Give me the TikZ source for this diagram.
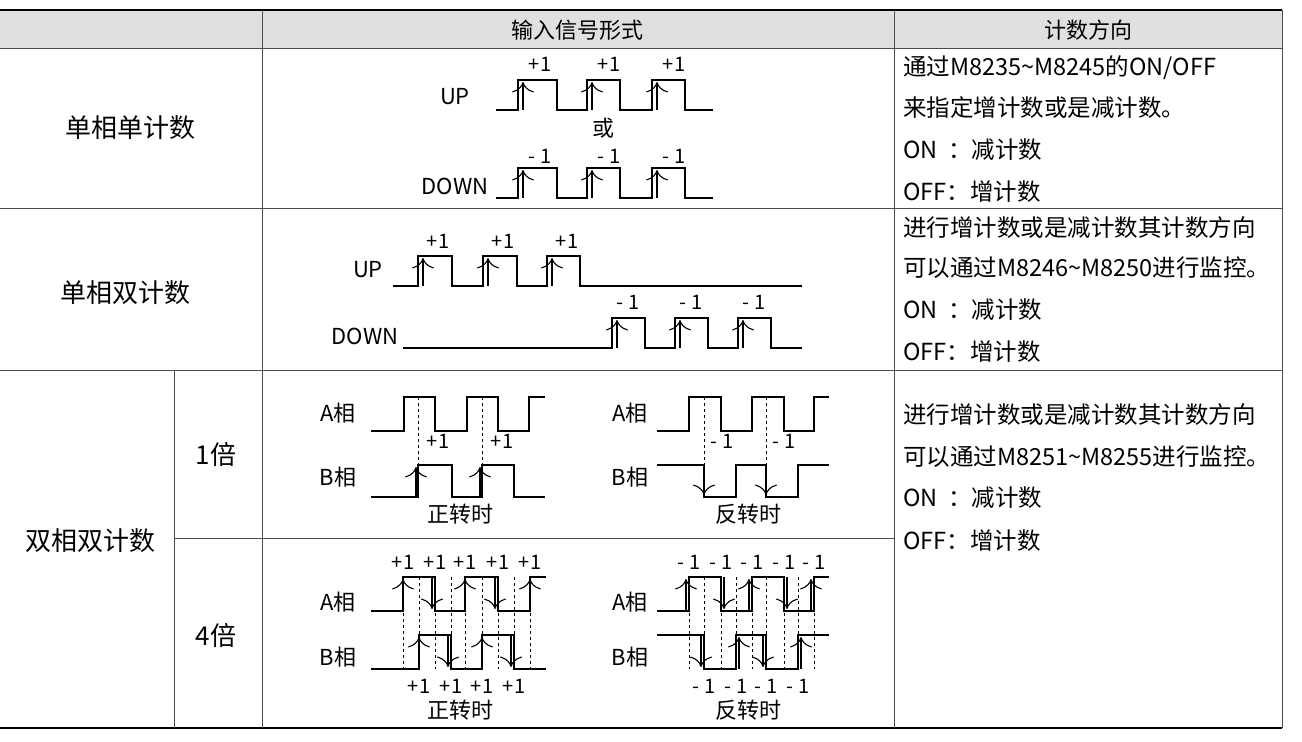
\documentclass[tikz,border=0pt]{standalone}
\usepackage{fontspec}
\setmainfont{Noto Sans CJK SC}
\usetikzlibrary{arrows.meta}
\tikzset{
  wave/.style={line width=1.3pt},
  upar/.style={line width=1.1pt,-{To[scale=2.6]}},
  gridl/.style={line width=0.6pt,black!70},
  dsh/.style={dashed,line width=0.8pt},
  big/.style={font=\fontsize{26}{30}\selectfont},
  txt/.style={font=\fontsize{23.5}{28}\selectfont,anchor=west,inner sep=0pt},
  sig/.style={font=\fontsize{22}{26}\selectfont,inner sep=0pt},
  cnt/.style={font=\fontsize{20}{22}\selectfont,inner sep=0pt},
}
\begin{document}
\begin{tikzpicture}[x=1pt,y=-1pt]
\useasboundingbox (0,0) rectangle (1302,742);

% Table
\fill [black!12] (0,10) rectangle (1282,48);
\draw [line width=2pt] (0,10) -- (1282,10);
\draw [gridl] (0,48) -- (1282,48);
\draw [gridl] (0,208) -- (1282,208);
\draw [gridl] (0,370) -- (1282,370);
\draw [gridl] (174,538) -- (894,538);
\draw [line width=2pt] (0,728) -- (1282,728);
\draw [gridl] (262,10) -- (262,728);
\draw [gridl] (894,10) -- (894,728);
\draw [gridl] (1282,10) -- (1282,728);
\draw [gridl] (174,370) -- (174,728);

% Header and row labels
\node [sig] (hin) at (577,30) {输入信号形式};
\node [sig] (hdir) at (1088,30) {计数方向};
\node [big] (r1) at (130,128) {单相单计数};
\node [big] (r2) at (125,293) {单相双计数};
\node [big] (r3) at (90,541) {双相双计数};
\node [big] (x1) at (216,455) {1倍};
\node [big] (x4) at (216,636) {4倍};

% Count direction texts
\node [txt] (d11) at (903,68) {通过M8235\textasciitilde M8245的ON/OFF};
\node [txt] (d12) at (903,108) {来指定增计数或是减计数。};
\node [txt] (d13) at (903,150) {ON\ \ ：减计数};
\node [txt] (d14) at (903,192) {OFF：增计数};
\node [txt] (d21) at (903,228) {进行增计数或是减计数其计数方向};
\node [txt] (d22) at (903,268) {可以通过M8246\textasciitilde M8250进行监控。};
\node [txt] (d23) at (903,310) {ON\ \ ：减计数};
\node [txt] (d24) at (903,352) {OFF：增计数};
\node [txt] (d31) at (903,415) {进行增计数或是减计数其计数方向};
\node [txt] (d32) at (903,457) {可以通过M8251\textasciitilde M8255进行监控。};
\node [txt] (d33) at (903,498) {ON\ \ ：减计数};
\node [txt] (d34) at (903,541) {OFF：增计数};

% Single phase single count
\node [sig] (up1) at (455,97) {UP};
\draw [wave] (496,110) -- (518,110) -- (518,80) -- (557,80) -- (557,110) -- (587,110) -- (587,80) -- (620,80) -- (620,110) -- (652,110) -- (652,80) -- (685,80) -- (685,110) -- (713,110);
\foreach \x/\l in {518/a,587/b,652/c}{
  \draw [upar] (\x+5,110) -- (\x+5,82);
  \node [cnt] (p1\l) at (\x+22,64) {+1};
}
\node [sig] (or1) at (603,128) {或};
\node [sig] (dn1) at (455,186) {DOWN};
\draw [wave] (496,198) -- (518,198) -- (518,168) -- (557,168) -- (557,198) -- (587,198) -- (587,168) -- (620,168) -- (620,198) -- (652,198) -- (652,168) -- (685,168) -- (685,198) -- (713,198);
\foreach \x/\l in {518/a,587/b,652/c}{
  \draw [upar] (\x+5,198) -- (\x+5,170);
  \node [cnt] (m1\l) at (\x+22,156) {- 1};
}

% Single phase double count
\node [sig] (up2) at (368,270) {UP};
\draw [wave] (393,286) -- (418,286) -- (418,256) -- (452,256) -- (452,286) -- (483,286) -- (483,256) -- (517,256) -- (517,286) -- (547,286) -- (547,256) -- (580,256) -- (580,286) -- (802,286);
\foreach \x/\l in {418/a,483/b,547/c}{
  \draw [upar] (\x+5,286) -- (\x+5,258);
  \node [cnt] (p2\l) at (\x+20,241) {+1};
}
\node [sig] (dn2) at (365,336) {DOWN};
\draw [wave] (403,348) -- (612,348) -- (612,318) -- (645,318) -- (645,348) -- (675,348) -- (675,318) -- (708,318) -- (708,348) -- (738,348) -- (738,318) -- (771,318) -- (771,348) -- (802,348);
\foreach \x/\l in {612/a,675/b,738/c}{
  \draw [upar] (\x+5,348) -- (\x+5,320);
  \node [cnt] (m2\l) at (\x+16,302) {- 1};
}

% Two phase, 1x, forward
\node [sig] (a1f) at (338,413) {A相};
\node [sig] (b1f) at (338,477) {B相};
\draw [wave] (371,431) -- (404,431) -- (404,397) -- (435,397) -- (435,431) -- (467,431) -- (467,397) -- (498,397) -- (498,431) -- (529,431) -- (529,397) -- (545,397);
\draw [wave] (371,497) -- (418,497) -- (418,465) -- (452,465) -- (452,497) -- (482,497) -- (482,465) -- (514,465) -- (514,497) -- (545,497);
\foreach \x/\l in {418/a,482/b}{
  \draw [dsh] (\x,397) -- (\x,465);
  \draw [upar] (\x-2,497) -- (\x-2,467);
  \node [cnt] (p3\l) at (\x+20,441) {+1};
}
\node [sig] (fw1) at (460,514) {正转时};

% Two phase, 1x, reverse
\node [sig] (a1r) at (630,413) {A相};
\node [sig] (b1r) at (630,477) {B相};
\draw [wave] (657,431) -- (689,431) -- (689,397) -- (721,397) -- (721,431) -- (752,431) -- (752,397) -- (784,397) -- (784,431) -- (814,431) -- (814,397) -- (829,397);
\draw [wave] (657,465) -- (704,465) -- (704,497) -- (736,497) -- (736,465) -- (766,465) -- (766,497) -- (798,497) -- (798,465) -- (829,465);
\foreach \x/\l in {704/a,766/b}{
  \draw [dsh] (\x,397) -- (\x,465);
  \draw [upar] (\x,465) -- (\x,495);
  \node [cnt] (m3\l) at (\x+18,441) {- 1};
}
\node [sig] (rv1) at (748,514) {反转时};

% Two phase, 4x, forward
\node [sig] (a4f) at (338,602) {A相};
\node [sig] (b4f) at (338,657) {B相};
\draw [wave] (371,611) -- (403,611) -- (403,577) -- (435,577) -- (435,611) -- (465,611) -- (465,577) -- (498,577) -- (498,611) -- (530,611) -- (530,577) -- (546,577);
\draw [wave] (371,669) -- (419,669) -- (419,635) -- (451,635) -- (451,669) -- (482,669) -- (482,635) -- (514,635) -- (514,669) -- (546,669);
\foreach \x in {403,419,435,451,465,482,498,514,530}
  \draw [dsh] (\x,577) -- (\x,669);
\foreach \x/\l in {403/a,465/c,530/e}{
  \draw [upar] (\x,611) -- (\x,579);
  \node [cnt] (p4\l) at (\x,562) {+1};
}
\foreach \x/\l in {435/b,498/d}{
  \draw [upar] (\x-3,577) -- (\x-3,609);
  \node [cnt] (p4\l) at (\x,562) {+1};
}
\foreach \x/\l in {419/f,482/h}{
  \draw [upar] (\x,669) -- (\x,637);
  \node [cnt] (q4\l) at (\x,686) {+1};
}
\foreach \x/\l in {451/g,514/i}{
  \draw [upar] (\x-3,635) -- (\x-3,667);
  \node [cnt] (q4\l) at (\x,686) {+1};
}
\node [sig] (fw4) at (460,710) {正转时};

% Two phase, 4x, reverse
\node [sig] (a4r) at (630,602) {A相};
\node [sig] (b4r) at (630,657) {B相};
\draw [wave] (657,611) -- (689,611) -- (689,577) -- (721,577) -- (721,611) -- (752,611) -- (752,577) -- (784,577) -- (784,611) -- (814,611) -- (814,577) -- (829,577);
\draw [wave] (657,635) -- (704,635) -- (704,669) -- (736,669) -- (736,635) -- (766,635) -- (766,669) -- (798,669) -- (798,635) -- (829,635);
\foreach \x in {689,704,721,736,752,766,784,798,814}
  \draw [dsh] (\x,577) -- (\x,669);
\foreach \x/\l in {689/a,752/c,814/e}{
  \draw [upar] (\x-3,611) -- (\x-3,579);
  \node [cnt] (m4\l) at (\x,562) {- 1};
}
\foreach \x/\l in {721/b,784/d}{
  \draw [upar] (\x+3,577) -- (\x+3,609);
  \node [cnt] (m4\l) at (\x,562) {- 1};
}
\foreach \x/\l in {704/f,766/h}{
  \draw [upar] (\x-3,635) -- (\x-3,667);
  \node [cnt] (n4\l) at (\x,686) {- 1};
}
\foreach \x/\l in {736/g,798/i}{
  \draw [upar] (\x+3,669) -- (\x+3,637);
  \node [cnt] (n4\l) at (\x,686) {- 1};
}
\node [sig] (rv4) at (748,710) {反转时};
\end{tikzpicture}
\end{document}
